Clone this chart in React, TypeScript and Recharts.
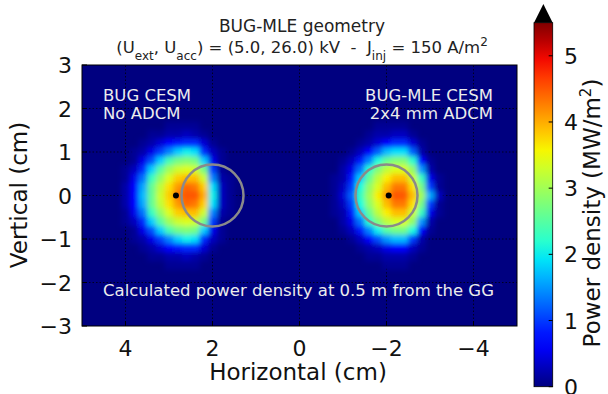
import { ScatterChart, Scatter, XAxis, YAxis, CartesianGrid, ReferenceDot, ReferenceLine } from "recharts"

// axis ticks
const xTicks = [4, 2, 0, -2, -4]
const yTicks = [-3, -2, -1, 0, 1, 2, 3]
const gridX = [4, 2, 0, -2, -4]
const gridY = [-2, -1, 0, 1, 2]
const cbarTicks = [0, 1, 2, 3, 4, 5]
const CBAR_MAX = 5.5

// heat map grid (cell centres, cm), values in MW/m^2
const rowsY = [1.6, 1.4, 1.2, 1.0, 0.8, 0.6, 0.4, 0.2, 0, -0.2, -0.4, -0.6, -0.8, -1.0, -1.2, -1.4, -1.6]
const leftColsX = [4.0, 3.8, 3.6, 3.4, 3.2, 3.0, 2.8, 2.6, 2.4, 2.2, 2.0, 1.8, 1.6, 1.4]
const rightColsX = [-0.8, -1.0, -1.2, -1.4, -1.6, -1.8, -2.0, -2.2, -2.4, -2.6, -2.8, -3.0, -3.2, -3.4]

// BUG CESM, no ADCM
const leftBlob = [
    [0, 0, 0, 0, 0, 0.1, 0.1, 0.1, 0.1, 0, 0, 0, 0, 0],
    [0, 0, 0, 0.1, 0.1, 0.2, 0.2, 0.3, 0.2, 0.1, 0, 0, 0, 0],
    [0, 0, 0.1, 0.2, 0.4, 0.6, 0.8, 0.9, 0.9, 0.4, 0.1, 0, 0, 0],
    [0, 0.1, 0.2, 0.5, 1.0, 1.4, 1.8, 2.0, 1.9, 0.9, 0.3, 0.1, 0, 0],
    [0, 0.1, 0.5, 1.1, 1.8, 2.4, 2.7, 2.8, 2.7, 1.8, 0.5, 0.1, 0, 0],
    [0.1, 0.3, 0.9, 1.8, 2.5, 3.0, 3.3, 3.4, 3.3, 2.7, 1.0, 0.1, 0, 0],
    [0.1, 0.5, 1.3, 2.3, 2.9, 3.4, 3.8, 3.9, 3.9, 3.3, 1.4, 0.2, 0.1, 0],
    [0.2, 0.6, 1.6, 2.6, 3.2, 3.7, 4.1, 4.4, 4.3, 3.8, 1.9, 0.3, 0.1, 0],
    [0.2, 0.7, 1.7, 2.6, 3.3, 3.8, 4.3, 4.5, 4.5, 4.0, 2.0, 0.3, 0.1, 0],
    [0.2, 0.6, 1.6, 2.6, 3.2, 3.7, 4.1, 4.4, 4.3, 3.8, 1.9, 0.3, 0.1, 0],
    [0.1, 0.5, 1.3, 2.3, 2.9, 3.4, 3.8, 3.9, 3.9, 3.3, 1.4, 0.2, 0.1, 0],
    [0.1, 0.3, 0.9, 1.8, 2.5, 3.0, 3.3, 3.4, 3.3, 2.7, 1.0, 0.1, 0, 0],
    [0, 0.1, 0.5, 1.1, 1.8, 2.4, 2.7, 2.8, 2.7, 1.8, 0.5, 0.1, 0, 0],
    [0, 0.1, 0.2, 0.5, 1.0, 1.4, 1.8, 2.0, 1.9, 0.9, 0.3, 0.1, 0, 0],
    [0, 0, 0.1, 0.2, 0.4, 0.6, 0.8, 0.9, 0.9, 0.4, 0.1, 0, 0, 0],
    [0, 0, 0, 0.1, 0.1, 0.2, 0.2, 0.3, 0.2, 0.1, 0, 0, 0, 0],
    [0, 0, 0, 0, 0, 0.1, 0.1, 0.1, 0.1, 0, 0, 0, 0, 0],
]

// BUG-MLE CESM, 2x4 mm ADCM
const rightBlob = [
    [0, 0, 0, 0, 0, 0.1, 0.1, 0.1, 0.1, 0, 0, 0, 0, 0],
    [0, 0, 0, 0, 0.1, 0.2, 0.2, 0.3, 0.3, 0.1, 0, 0, 0, 0],
    [0, 0, 0, 0.1, 0.2, 0.4, 0.7, 0.9, 0.9, 0.4, 0.1, 0, 0, 0],
    [0, 0, 0.1, 0.3, 0.7, 1.2, 1.7, 1.9, 1.9, 1.2, 0.2, 0, 0, 0],
    [0, 0.1, 0.3, 0.8, 1.4, 2.1, 2.6, 2.8, 2.8, 2.2, 0.7, 0.1, 0, 0],
    [0, 0.2, 0.5, 1.3, 2.2, 2.8, 3.2, 3.4, 3.4, 2.9, 1.5, 0.2, 0, 0],
    [0.1, 0.2, 0.8, 1.8, 2.6, 3.2, 3.6, 3.9, 3.9, 3.3, 2.3, 0.5, 0.1, 0],
    [0.1, 0.3, 1.0, 2.1, 2.9, 3.4, 3.9, 4.3, 4.3, 3.7, 2.7, 1.0, 0.1, 0],
    [0.1, 0.4, 1.2, 2.3, 3.0, 3.6, 4.1, 4.5, 4.5, 3.9, 3.0, 1.6, 0.3, 0],
    [0.1, 0.3, 1.0, 2.1, 2.9, 3.4, 3.9, 4.3, 4.3, 3.7, 2.7, 1.0, 0.1, 0],
    [0.1, 0.2, 0.8, 1.8, 2.6, 3.2, 3.6, 3.9, 3.9, 3.3, 2.3, 0.5, 0.1, 0],
    [0, 0.2, 0.5, 1.3, 2.2, 2.8, 3.2, 3.4, 3.4, 2.9, 1.5, 0.2, 0, 0],
    [0, 0.1, 0.3, 0.8, 1.4, 2.0, 2.5, 2.7, 2.7, 2.1, 0.6, 0.1, 0, 0],
    [0, 0, 0.1, 0.3, 0.6, 1.1, 1.5, 1.7, 1.7, 1.0, 0.2, 0, 0, 0],
    [0, 0, 0, 0.1, 0.2, 0.3, 0.5, 0.7, 0.7, 0.3, 0.1, 0, 0, 0],
    [0, 0, 0, 0, 0.1, 0.1, 0.2, 0.2, 0.2, 0.1, 0, 0, 0, 0],
    [0, 0, 0, 0, 0, 0, 0.1, 0.1, 0.1, 0, 0, 0, 0, 0],
]

// markers: aperture circles and beamlet centres
const circleCentersX = [2, -2]
const beamCentersX = [2.84, -2.05]

const CELL_CM = 0.2
const PLOT_W = 435
const X_SPAN = 10
const cellPx = (CELL_CM * PLOT_W) / X_SPAN

const jetR = [[0, 0], [0.35, 0], [0.66, 1], [0.89, 1], [1, 0.5]]
const jetG = [[0, 0], [0.125, 0], [0.375, 1], [0.64, 1], [0.91, 0], [1, 0]]
const jetB = [[0, 0.5], [0.11, 1], [0.34, 1], [0.65, 0], [1, 0]]

function lerp(pts: number[][], t: number) {
    for (let i = 1; i < pts.length; i++) {
        if (t <= pts[i][0]) {
            const [x0, y0] = pts[i - 1]
            const [x1, y1] = pts[i]
            return y0 + ((t - x0) / (x1 - x0)) * (y1 - y0)
        }
    }
    return pts[pts.length - 1][1]
}

function jet(t: number) {
    const c = Math.max(0, Math.min(1, t))
    const to = (v: number) => Math.round(v * 255)
    return `rgb(${to(lerp(jetR, c))},${to(lerp(jetG, c))},${to(lerp(jetB, c))})`
}

function toCells(cols: number[], grid: number[][]) {
    const out: { x: number; y: number; v: number }[] = []
    grid.forEach((row, i) => {
        row.forEach((v, j) => {
            if (v > 0) out.push({ x: cols[j], y: rowsY[i], v })
        })
    })
    return out
}

const cells = [...toCells(leftColsX, leftBlob), ...toCells(rightColsX, rightBlob)]

const gradStops = Array.from({ length: 21 }, (_, i) => i / 20)

const fmt = (v: number) => (v < 0 ? `\u2212${Math.abs(v)}` : `${v}`)

const FONT = "DejaVu Sans, sans-serif"

function HeatCell(props: any) {
    const { cx, cy } = props
    const v = props.payload?.v ?? props.v
    return (
        <rect
            x={cx - cellPx / 2}
            y={cy - cellPx / 2}
            width={cellPx + 0.5}
            height={cellPx + 0.5}
            fill={jet(v / CBAR_MAX)}
        />
    )
}

function XTick(props: any) {
    const { x, y, payload } = props
    return (
        <g>
            <line x1={x} x2={x} y1={y} y2={y - 5} stroke="#000" />
            <text x={x} y={y + 30} textAnchor="middle" fontSize={22} fontFamily={FONT} fill="#111">
                {fmt(payload.value)}
            </text>
        </g>
    )
}

function YTick(props: any) {
    const { x, y, payload } = props
    return (
        <g>
            <line x1={x} x2={x + 5} y1={y} y2={y} stroke="#000" />
            <text x={x - 10} y={y + 8} textAnchor="end" fontSize={22} fontFamily={FONT} fill="#111">
                {fmt(payload.value)}
            </text>
        </g>
    )
}

export default function App() {
    const cbTop = 22.7
    const cbBottom = 386.7
    const cbX = 534
    const cbW = 18.7
    const cbY = (v: number) => cbBottom - (v / CBAR_MAX) * (cbBottom - cbTop)

    return (
        <div style={{ position: "relative", width: 608, height: 394, fontFamily: FONT }}>
            <style>{`body{margin:0} .recharts-scatter{filter:url(#soft)}`}</style>
            <svg width={0} height={0} style={{ position: "absolute" }}>
                <defs>
                    <filter id="soft" x="-10%" y="-10%" width="120%" height="120%">
                        <feGaussianBlur stdDeviation="2.6" />
                    </filter>
                </defs>
            </svg>
            <ScatterChart width={608} height={394} margin={{ top: 65, right: 91, bottom: 38, left: 0 }}>
                <CartesianGrid fill="#000080" fillOpacity={1} stroke="none" />
                <XAxis
                    dataKey="x"
                    type="number"
                    domain={[-5, 5]}
                    reversed
                    ticks={xTicks}
                    interval={0}
                    tick={<XTick />}
                    tickSize={0}
                    tickMargin={0}
                    axisLine={false}
                    height={30}
                />
                <YAxis
                    dataKey="y"
                    type="number"
                    domain={[-3, 3]}
                    ticks={yTicks}
                    interval={0}
                    tick={<YTick />}
                    tickSize={0}
                    tickMargin={0}
                    axisLine={false}
                    width={82}
                />
                <Scatter data={cells} shape={<HeatCell />} isAnimationActive={false} />
                {gridX.map((gx) => (
                    <ReferenceLine key={`gx${gx}`} x={gx} stroke="#000" strokeOpacity={0.75} strokeDasharray="1.5 2" />
                ))}
                {gridY.map((gy) => (
                    <ReferenceLine key={`gy${gy}`} y={gy} stroke="#000" strokeOpacity={0.75} strokeDasharray="1.5 2" />
                ))}
                {circleCentersX.map((cx) => (
                    <ReferenceDot key={`c${cx}`} x={cx} y={0} r={31} fill="none" stroke="#8a8a8a" strokeWidth={2.5} />
                ))}
                {beamCentersX.map((bx) => (
                    <ReferenceDot key={`b${bx}`} x={bx} y={0} r={3} fill="#000" stroke="none" />
                ))}
            </ScatterChart>
            <svg
                width={608}
                height={394}
                style={{ position: "absolute", left: 0, top: 0, pointerEvents: "none" }}
                fontFamily={FONT}
            >
                <defs>
                    <linearGradient id="jetbar" x1="0" y1="1" x2="0" y2="0">
                        {gradStops.map((t) => (
                            <stop key={t} offset={t} stopColor={jet(t)} />
                        ))}
                    </linearGradient>
                </defs>
                <rect x={82} y={65} width={435} height={261} fill="none" stroke="#000" strokeWidth={1} />

                <text x={302} y={32} textAnchor="middle" fontSize={17} fill="#222">
                    BUG-MLE geometry
                </text>
                <text x={302} y={53} textAnchor="middle" fontSize={16.5} fill="#222" style={{ whiteSpace: "pre" }}>
                    (U<tspan baselineShift="sub" fontSize={12}>ext</tspan>, U
                    <tspan baselineShift="sub" fontSize={12}>acc</tspan>) = (5.0, 26.0) kV  -  J
                    <tspan baselineShift="sub" fontSize={12}>inj</tspan> = 150 A/m
                    <tspan baselineShift="super" fontSize={12}>2</tspan>
                </text>

                <text x={103} y={101} fontSize={16.5} fill="#ececec">BUG CESM</text>
                <text x={103} y={119} fontSize={16.5} fill="#ececec">No ADCM</text>
                <text x={493} y={101} fontSize={16.5} fill="#ececec" textAnchor="end">BUG-MLE CESM</text>
                <text x={493} y={119} fontSize={16.5} fill="#ececec" textAnchor="end">2x4 mm ADCM</text>
                <text x={103} y={296} fontSize={16.5} fill="#ececec">
                    Calculated power density at 0.5 m from the GG
                </text>

                <text x={298} y={380} textAnchor="middle" fontSize={23} fill="#111">
                    Horizontal (cm)
                </text>
                <text x={27} y={195} textAnchor="middle" fontSize={23} fill="#111" transform="rotate(-90 27 195)">
                    Vertical (cm)
                </text>

                <rect x={cbX} y={cbTop} width={cbW} height={cbBottom - cbTop} fill="url(#jetbar)" stroke="#000" strokeWidth={0.8} />
                <polygon points={`${cbX},${cbTop} ${cbX + cbW},${cbTop} ${cbX + cbW / 2},4`} fill="#000" />
                {cbarTicks.map((v) => (
                    <g key={v}>
                        <line x1={cbX + cbW - 4} x2={cbX + cbW} y1={cbY(v)} y2={cbY(v)} stroke="#000" />
                        <text x={564} y={cbY(v) + 8} fontSize={22} fill="#111">
                            {v}
                        </text>
                    </g>
                ))}
                <text x={600} y={213} textAnchor="middle" fontSize={23} fill="#111" transform="rotate(-90 600 213)">
                    Power density (MW/m<tspan baselineShift="super" fontSize={15}>2</tspan>)
                </text>
            </svg>
        </div>
    )
}
